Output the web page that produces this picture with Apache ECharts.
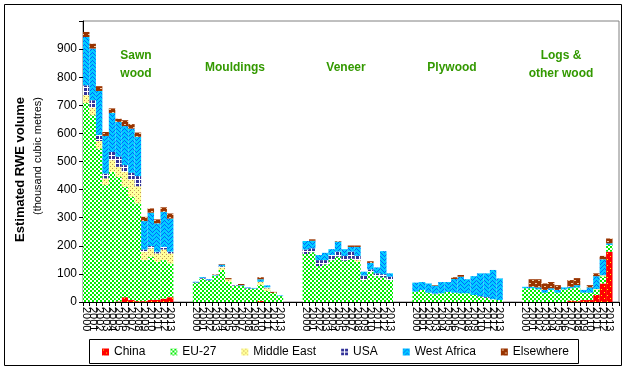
<!DOCTYPE html>
<html><head><meta charset="utf-8">
<script src="https://cdn.jsdelivr.net/npm/echarts@6/dist/echarts.min.js"></script>
<style>html,body{margin:0;padding:0;background:#fff}#c{width:625px;height:370px}</style>
</head><body><div id="c"></div>
<script>
const years = ['2000','2001','2002','2003','2004','2005','2006','2007','2008','2009','2010','2011','2012','2013'];
const productLabels = [['Sawn','wood'],['Mouldings'],['Veneer'],['Plywood'],['Logs &','other wood']];
const seriesNames = ['China','EU-27','Middle East','USA','West Africa','Elsewhere'];
// each row: one product (Sawn wood, Mouldings, Veneer, Plywood, Logs & other wood), 2000..2013
const china = [
 [0,0,0,0,0,2,17,7,3,3,7,8,12,17],
 [0,0,0,0,0,0,0,0,0,0,4,0,0,0],
 [0,0,0,0,0,0,0,0,0,0,0,0,0,0],
 [0,0,0,0,0,0,0,0,0,0,0,0,0,0],
 [0,0,0,0,0,0,0,5,3,7,7,25,66,179]
];
const eu27 = [
 [708,665,546,416,463,443,393,367,348,146,154,135,137,120],
 [68,83,76,93,114,72,57,57,48,47,57,40,32,21],
 [171,177,128,134,149,161,147,154,143,78,108,92,88,78],
 [37,43,33,28,31,36,33,31,31,25,19,15,9,7],
 [49,49,45,33,43,33,45,44,49,26,26,18,24,24]
];
const middleEast = [
 [28,27,27,24,42,36,53,62,61,30,30,30,38,36],
 [0,0,0,0,9,9,0,0,0,0,11,9,0,0],
 [0,0,0,0,0,0,0,0,6,0,0,0,0,0],
 [0,0,0,0,0,0,0,0,0,0,0,0,0,0],
 [0,0,0,0,0,0,0,0,0,0,0,3,5,0]
];
const usa = [
 [35,26,21,17,29,36,24,24,36,8,8,6,9,6],
 [2,3,2,1,4,0,2,1,2,1,0,3,0,2],
 [16,14,21,15,18,18,17,25,15,16,8,10,11,12],
 [0,0,0,2,0,0,0,0,0,0,2,3,1,0],
 [0,0,0,0,0,0,0,0,0,0,0,0,0,0]
];
const westAfrica = [
 [172,184,157,134,139,124,139,157,140,101,119,101,125,118],
 [2,3,3,2,6,0,0,2,2,2,9,7,0,2],
 [30,27,18,26,21,36,24,17,32,14,23,21,82,12],
 [32,28,33,28,40,35,49,59,50,67,81,84,104,77],
 [5,5,7,10,6,10,7,5,8,10,19,46,57,6]
];
const elsewhere = [
 [18,17,17,14,16,11,21,16,15,15,15,14,16,18],
 [0,0,0,2,2,4,0,4,0,0,7,0,4,0],
 [0,5,0,0,0,2,0,5,5,0,6,0,0,0],
 [0,0,0,2,0,0,6,6,0,0,0,0,0,0],
 [0,27,29,23,22,17,0,24,25,0,8,10,12,17]
];
const gapBetween = 3, gapEnd = 1;

const categories = [];
for (let g = 0; g < 5; g++) {
  years.forEach(y => categories.push(y));
  const n = g < 4 ? gapBetween : gapEnd;
  for (let k = 0; k < n; k++) categories.push('');
}
function flat(arr) {
  const out = [];
  for (let g = 0; g < 5; g++) {
    arr[g].forEach(v => out.push(v));
    const n = g < 4 ? gapBetween : gapEnd;
    for (let k = 0; k < n; k++) out.push('-');
  }
  return out;
}

function tile(w, h, bg, fg, pts) {
  const c = document.createElement('canvas'); c.width = w; c.height = h;
  const x = c.getContext('2d'); x.fillStyle = bg; x.fillRect(0, 0, w, h);
  x.fillStyle = fg; pts.forEach(p => x.fillRect(p[0], p[1], p[2] || 1, p[3] || 1));
  return { image: c, repeat: 'repeat' };
}
function herring() {
  const c = document.createElement('canvas'); c.width = 8; c.height = 8;
  const x = c.getContext('2d'); x.fillStyle = '#00ccff'; x.fillRect(0, 0, 8, 8);
  x.fillStyle = '#0066ff';
  for (let yy = 0; yy < 8; yy++) for (let xx = 0; xx < 8; xx++) {
    const d = xx < 4 ? (xx + yy) % 4 : (yy - xx + 16) % 4;
    if (d === 0) x.fillRect(xx, yy, 1, 1);
  }
  return { image: c, repeat: 'repeat' };
}
const patterns = [
  tile(6, 6, '#ff0000', '#ffff00', [[1,1],[4,4]]),
  tile(4, 4, '#ffffff', '#00ee00', [[0,0,2,2],[2,2,2,2]]),
  tile(4, 4, '#ffff99', '#c09050', [[0,0],[2,2]]),
  tile(4, 4, '#ffffff', '#333399', [[0,0,3,3]]),
  herring(),
  tile(6, 6, '#993300', '#f0c8a0', [[1,1,2,1],[4,4,2,1]])
];
const allData = [china, eu27, middleEast, usa, westAfrica, elsewhere];
const font = '"Liberation Sans", Arial, sans-serif';

const chart = echarts.init(document.getElementById('c'), null, { renderer: 'canvas' });
const graphic = [
  { type: 'rect', shape: { x: 4.5, y: 4.5, width: 617, height: 361 }, style: { fill: 'none', stroke: '#000', lineWidth: 1 }, silent: true },
  { type: 'rect', shape: { x: 89.5, y: 339.5, width: 489, height: 24 }, style: { fill: 'none', stroke: '#000', lineWidth: 1 }, silent: true },
  { type: 'text', x: 20, y: 97, rotation: Math.PI / 2, style: { text: 'Estimated RWE volume', font: 'bold 13px ' + font, fill: '#000', textAlign: 'right', textVerticalAlign: 'middle' } },
  { type: 'text', x: 38, y: 97, rotation: Math.PI / 2, style: { text: '(thousand cubic metres)', font: '11px ' + font, fill: '#000', textAlign: 'right', textVerticalAlign: 'middle' } }
];
const labelPos = [[136, 56], [235, 68], [346, 68], [452, 68], [561, 56]];
productLabels.forEach((lines, i) => {
  lines.forEach((t, j) => {
    graphic.push({ type: 'text', x: labelPos[i][0], y: labelPos[i][1] + j * 18,
      style: { text: t, font: 'bold 12px ' + font, fill: '#339900', textAlign: 'center', textVerticalAlign: 'middle' } });
  });
});

chart.setOption({
  animation: false,
  backgroundColor: '#fff',
  textStyle: { fontFamily: font },
  grid: { left: 83, right: 6, top: 21, bottom: 68, show: true, borderColor: '#808080', borderWidth: 1 },
  legend: {
    left: 102, top: 346, padding: 0, itemWidth: 7, itemHeight: 7, itemGap: 25, icon: 'rect',
    textStyle: { fontSize: 12, color: '#000', fontFamily: font },
    data: seriesNames
  },
  xAxis: {
    type: 'category', data: categories, boundaryGap: true,
    axisLine: { lineStyle: { color: '#000', width: 1 } },
    axisTick: { show: true, interval: 0, length: 4, lineStyle: { color: '#000' } },
    axisLabel: { interval: 0, rotate: -90, fontSize: 11, color: '#000', margin: 5, fontFamily: font },
    splitLine: { show: false }
  },
  yAxis: {
    type: 'value', min: 0, max: 1000, interval: 100,
    axisLine: { show: true, lineStyle: { color: '#000', width: 1 } },
    axisTick: { show: true, length: 4, lineStyle: { color: '#000' } },
    axisLabel: { fontSize: 12, color: '#000', margin: 6, fontFamily: font, formatter: v => (v >= 1000 ? '' : String(v)) },
    splitLine: { show: false }
  },
  graphic: graphic,
  series: seriesNames.map((name, i) => ({
    name: name, type: 'bar', stack: 'total',
    barCategoryGap: '0%', barGap: '0%',
    data: flat(allData[i]),
    itemStyle: { color: patterns[i] },
    emphasis: { disabled: true }
  }))
});
</script></body></html>
